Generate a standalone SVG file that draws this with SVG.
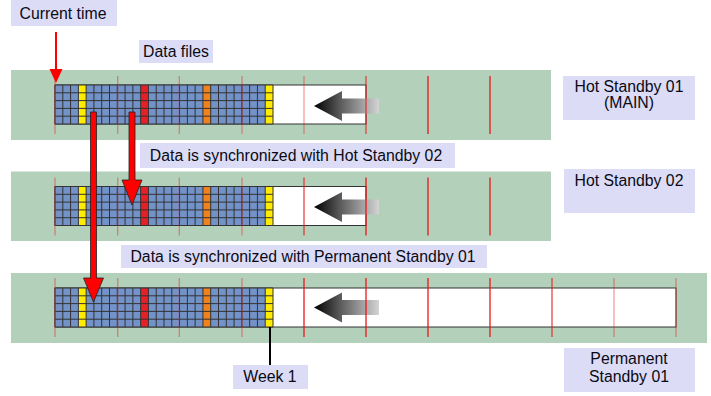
<svg xmlns="http://www.w3.org/2000/svg" xmlns:xlink="http://www.w3.org/1999/xlink" width="711" height="396" viewBox="0 0 711 396">
<style>
.band{fill:#b3d1ba}
.lbl{fill:#dcdcf7}
.txt{font-family:"Liberation Sans",Arial,sans-serif;font-size:15.8px;fill:#0a0a14;text-anchor:middle}
.tick{stroke:#e81818;stroke-width:1.3}
.faint{opacity:.42}
.store{fill:#fff;stroke:#333;stroke-width:1}
.redarrow{fill:#ff0000;stroke:#222;stroke-width:0.8}
</style>
<defs>
<linearGradient id="gArrow" x1="0" y1="0" x2="1" y2="0">
<stop offset="0" stop-color="#000"/>
<stop offset="0.43" stop-color="#606060"/>
<stop offset="1" stop-color="#d4d4d4"/>
</linearGradient>
<g id="grid">
<rect x="0" y="0" width="218" height="39" fill="#7292c8"/>
<rect x="23.36" y="0" width="7.79" height="39" fill="#ffec00"/>
<rect x="85.64" y="0" width="7.79" height="39" fill="#e42029"/>
<rect x="147.93" y="0" width="7.79" height="39" fill="#f0821e"/>
<rect x="210.21" y="0" width="7.79" height="39" fill="#ffec00"/>
<path d="M0 0V39M7.79 0V39M15.57 0V39M23.36 0V39M31.14 0V39M38.93 0V39M46.71 0V39M54.5 0V39M62.29 0V39M70.07 0V39M77.86 0V39M85.64 0V39M93.43 0V39M101.21 0V39M109 0V39M116.79 0V39M124.57 0V39M132.36 0V39M140.14 0V39M147.93 0V39M155.71 0V39M163.5 0V39M171.29 0V39M179.07 0V39M186.86 0V39M194.64 0V39M202.43 0V39M210.21 0V39M218 0V39M0 0H218M0 7.8H218M0 15.6H218M0 23.4H218M0 31.2H218M0 39H218" stroke="#333" stroke-width="1" fill="none"/>
</g>
<polygon id="shift" points="0,0 28,-15 28,-7.5 65,-7.5 65,7.5 28,7.5 28,15" fill="url(#gArrow)"/>
</defs>

<g id="hot-standby-01">
<rect class="band" x="11" y="70" width="540" height="70"/>
<rect class="store" x="55" y="85" width="311" height="39"/>
<use xlink:href="#grid" x="55" y="85"/>
<use xlink:href="#shift" x="314" y="106"/>
<g class="tick">
<line class="faint" x1="55" y1="76" x2="55" y2="134"/>
<line class="faint" x1="117.7" y1="76" x2="117.7" y2="134"/>
<line class="faint" x1="179.3" y1="76" x2="179.3" y2="134"/>
<line class="faint" x1="242" y1="76" x2="242" y2="134"/>
<line class="faint" x1="304" y1="76" x2="304" y2="134"/>
<line x1="366" y1="76" x2="366" y2="134" opacity="0.75"/>
<line x1="428" y1="76" x2="428" y2="134"/>
<line x1="490" y1="76" x2="490" y2="134"/>
</g>
</g>

<g id="hot-standby-02">
<rect class="band" x="11" y="171.5" width="540" height="69.5"/>
<rect class="store" x="55" y="186.5" width="311" height="39"/>
<use xlink:href="#grid" x="55" y="186.5"/>
<use xlink:href="#shift" x="314" y="207"/>
<g class="tick">
<line class="faint" x1="55" y1="177.5" x2="55" y2="235.5"/>
<line class="faint" x1="117.7" y1="177.5" x2="117.7" y2="235.5"/>
<line class="faint" x1="179.3" y1="177.5" x2="179.3" y2="235.5"/>
<line class="faint" x1="242" y1="177.5" x2="242" y2="235.5"/>
<line x1="304" y1="177.5" x2="304" y2="235.5" opacity="0.8"/>
<line x1="366" y1="177.5" x2="366" y2="235.5"/>
<line x1="428" y1="177.5" x2="428" y2="235.5"/>
<line x1="490" y1="177.5" x2="490" y2="235.5"/>
</g>
</g>

<g id="permanent-standby-01">
<rect class="band" x="11" y="273" width="696" height="70"/>
<rect class="store" x="55" y="288" width="621" height="39"/>
<use xlink:href="#grid" x="55" y="288"/>
<use xlink:href="#shift" x="314" y="307.5"/>
<g class="tick">
<line class="faint" x1="55" y1="278" x2="55" y2="337"/>
<line class="faint" x1="117.7" y1="278" x2="117.7" y2="337"/>
<line class="faint" x1="179.3" y1="278" x2="179.3" y2="337"/>
<line class="faint" x1="242" y1="278" x2="242" y2="337"/>
<line x1="304" y1="278" x2="304" y2="337"/>
<line x1="366" y1="278" x2="366" y2="337"/>
<line x1="428" y1="278" x2="428" y2="337"/>
<line x1="490" y1="278" x2="490" y2="337"/>
<line x1="552" y1="278" x2="552" y2="337" opacity="0.8"/>
<line class="faint" x1="614" y1="278" x2="614" y2="337"/>
<line class="faint" x1="676" y1="278" x2="676" y2="337"/>
</g>
</g>

<g id="label-current-time">
<rect class="lbl" x="11" y="0" width="106" height="26"/>
<text class="txt" x="63" y="18.5">Current time</text>
</g>
<g id="label-data-files">
<rect class="lbl" x="139" y="40" width="74" height="23"/>
<text class="txt" x="176" y="56.5">Data files</text>
</g>
<g id="label-hot-standby-01">
<rect class="lbl" x="563" y="76" width="132" height="44"/>
<text class="txt" x="629" y="91.5">Hot Standby 01</text>
<text class="txt" x="629" y="107.5">(MAIN)</text>
</g>
<g id="label-sync-hot-02">
<rect class="lbl" x="140" y="143" width="315" height="25"/>
<text class="txt" x="296" y="161">Data is synchronized with Hot Standby 02</text>
</g>
<g id="label-hot-standby-02">
<rect class="lbl" x="564" y="169" width="131" height="44"/>
<text class="txt" x="629" y="185.5">Hot Standby 02</text>
</g>
<g id="label-sync-perm-01">
<rect class="lbl" x="121" y="245" width="366" height="23"/>
<text class="txt" x="303" y="261.5">Data is synchronized with Permanent Standby 01</text>
</g>
<g id="label-week-1">
<rect class="lbl" x="233" y="365" width="75" height="24"/>
<text class="txt" x="270" y="381.5">Week 1</text>
</g>
<g id="label-permanent-standby-01">
<rect class="lbl" x="564" y="348" width="131" height="44"/>
<text class="txt" x="629" y="363.5">Permanent</text>
<text class="txt" x="629" y="381.5">Standby 01</text>
</g>

<g id="connectors">
<line x1="56" y1="32" x2="56" y2="71" stroke="#ff0000" stroke-width="2"/>
<polygon points="49.5,69 62.5,69 56,83" fill="#ff0000"/>
<polygon class="redarrow" points="129,112 135,112 135,180 142,180 132,205 122,180 129,180"/>
<polygon class="redarrow" points="90.5,112 96.5,112 96.5,278 103.5,278 93.5,302 83.5,278 90.5,278"/>
<line x1="270" y1="327" x2="270" y2="365" stroke="#000" stroke-width="2"/>
</g>
</svg>
